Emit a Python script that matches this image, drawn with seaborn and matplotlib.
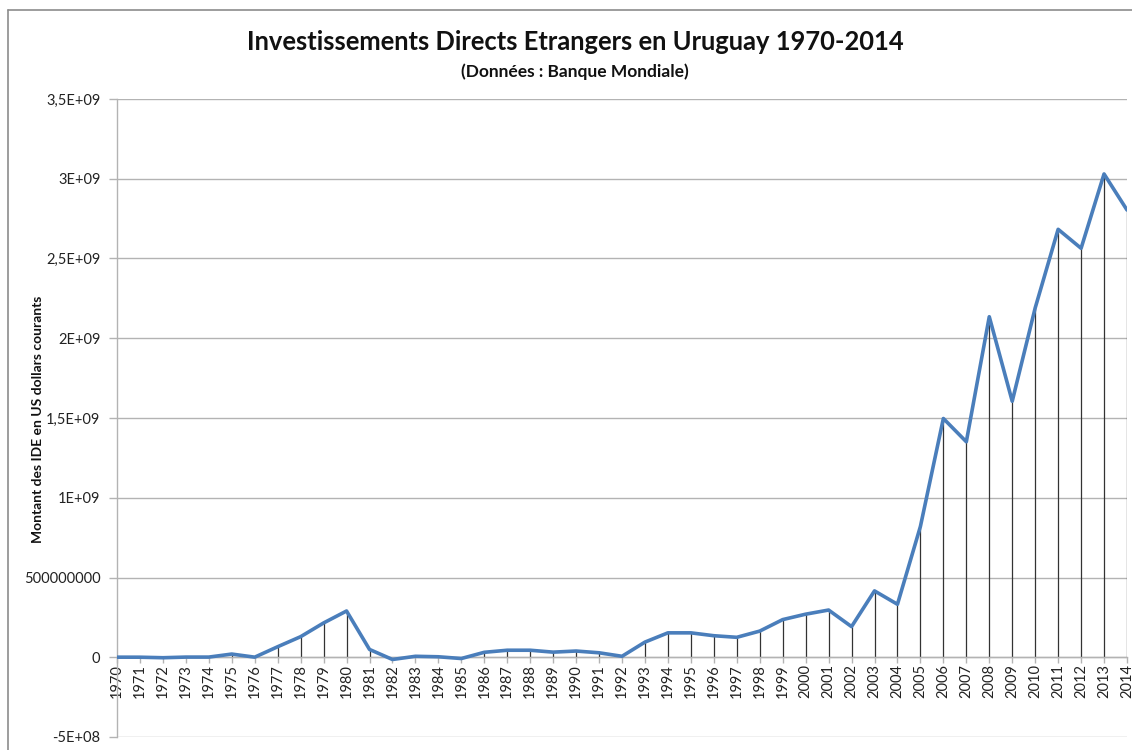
import matplotlib
matplotlib.use("Agg")
import matplotlib.pyplot as plt
import seaborn as sns
import pandas as pd

# Foreign direct investment, net inflows, Uruguay (current US$)
years = list(range(1970, 2015))
fdi_usd = [
    0.5e6, 0.3e6, -3e6, 1e6, 1e6, 20e6, 0.5e6, 66e6, 129e6, 215e6,
    290e6, 49e6, -14e6, 6e6, 3e6, -8e6, 31e6, 44e6, 44e6, 32e6,
    39e6, 28e6, 6e6, 95e6, 153e6, 153e6, 135e6, 125e6, 164e6, 236e6,
    270e6, 296e6, 192e6, 416e6, 332e6, 820e6, 1497e6, 1351e6, 2135e6, 1605e6,
    2190e6, 2683e6, 2564e6, 3030e6, 2804e6,
]
y_ticks = [-5e8, 0, 5e8, 1e9, 1.5e9, 2e9, 2.5e9, 3e9, 3.5e9]
y_tick_labels = ["-5E+08", "0", "500000000", "1E+09", "1,5E+09", "2E+09",
                 "2,5E+09", "3E+09", "3,5E+09"]

title = "Investissements Directs Etrangers en Uruguay 1970-2014"
subtitle = "(Données : Banque Mondiale)"
y_label = "Montant des IDE en US dollars courants"

df = pd.DataFrame({"annee": years, "ide": fdi_usd})

sns.set_theme(style="white")
plt.rcParams["font.family"] = ["Lato", "DejaVu Sans"]

fig = plt.figure(figsize=(11.32, 7.5), dpi=100)
ax = fig.add_axes([117 / 1132, 13 / 750, 1010 / 1132, 638 / 750])

grid_col = "#B3B3B3"

# horizontal gridlines
for v in y_ticks:
    ax.axhline(v, color=grid_col, lw=1.0, zorder=0)

# drop lines from each point to the zero axis
ax.vlines(df["annee"], 0, df["ide"], color="#333333", lw=0.9, zorder=1)

sns.lineplot(data=df, x="annee", y="ide", ax=ax, color="#4A7EBB",
             lw=2.6, zorder=3)

# category axis crosses the value axis at zero
for s in ["top", "right"]:
    ax.spines[s].set_visible(False)
ax.spines["left"].set_color(grid_col)
ax.spines["left"].set_linewidth(1.0)
ax.spines["bottom"].set_position(("data", 0))
ax.spines["bottom"].set_color(grid_col)
ax.spines["bottom"].set_linewidth(1.0)

ax.set_xlim(1970, 2014)
ax.set_ylim(-5e8, 3.5e9)

ax.set_yticks(y_ticks)
ax.set_yticklabels(y_tick_labels, fontsize=10.5, color="#222222")
ax.set_xticks(years)
ax.set_xticklabels([str(y) for y in years], rotation=90, fontsize=10.5,
                   color="#222222")

ax.tick_params(axis="y", which="major", direction="out", length=6,
               width=1.0, color=grid_col, pad=6, left=True)
ax.tick_params(axis="x", which="major", direction="out", length=4,
               width=1.0, color=grid_col, pad=1, bottom=True)

ax.set_xlabel("")
ax.set_ylabel("")

fig.text(38 / 1132, 1 - 419 / 750, y_label, rotation=90, ha="center",
         va="center", fontsize=10, fontweight="bold", color="#111111")

fig.text(575 / 1132, 1 - 42 / 750, title, ha="center", va="center",
         fontsize=18.4, fontweight="bold", color="#111111")
fig.text(575 / 1132, 1 - 72 / 750, subtitle, ha="center", va="center",
         fontsize=12.5, fontweight="bold", color="#111111")

# outer chart frame
frame_col = "#8C8C8C"
fig.add_artist(plt.Line2D([8 / 1132, 1.0], [1 - 10 / 750, 1 - 10 / 750],
                          transform=fig.transFigure, color=frame_col, lw=1.2))
fig.add_artist(plt.Line2D([8 / 1132, 8 / 1132], [0.0, 1 - 10 / 750],
                          transform=fig.transFigure, color=frame_col, lw=1.2))

fig.savefig("out.png", dpi=100)
